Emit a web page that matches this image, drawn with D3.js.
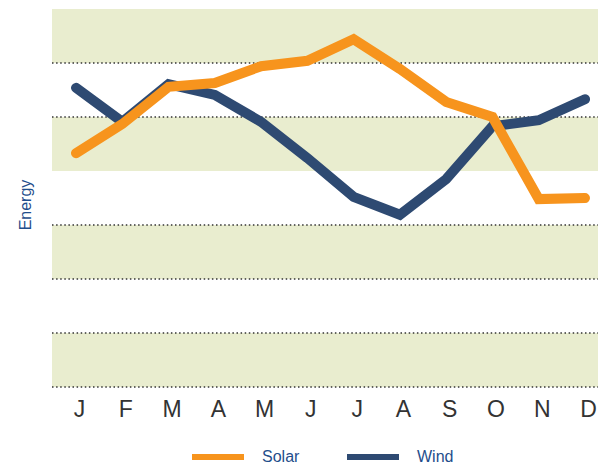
<!DOCTYPE html>
<html>
<head>
<meta charset="utf-8">
<script src="https://cdn.jsdelivr.net/npm/d3@7"></script>
<style>
  body { margin: 0; background: #fff; }
  text { font-family: "Liberation Sans", Arial, sans-serif; }
</style>
</head>
<body>
<div id="chart"></div>
<script>
// Data
var months = ["J", "F", "M", "A", "M", "J", "J", "A", "S", "O", "N", "D"];
var solar = [4.33, 4.87, 5.56, 5.63, 5.94, 6.04, 6.44, 5.89, 5.28, 5.0, 3.48, 3.5];
var wind = [5.54, 4.91, 5.61, 5.41, 4.91, 4.24, 3.52, 3.19, 3.85, 4.83, 4.94, 5.33];
var bands = [[0, 1], [2, 3], [4, 5], [6, 7]];
var gridValues = [0, 1, 2, 3, 5, 6];

var svgWidth = 606;
var svgHeight = 466;
var plot = {left: 52, right: 598, top: 9, bottom: 387};

var svg = d3.select("#chart")
  .append("svg")
    .attr("width", svgWidth)
    .attr("height", svgHeight);

// Scales
var x = d3.scalePoint()
  .domain(d3.range(months.length))
  .range([76, 585]);
var y = d3.scaleLinear()
  .domain([0, 7])
  .range([plot.bottom, plot.top]);

// Background bands
svg.append("g")
  .selectAll("rect")
  .data(bands)
  .join("rect")
    .attr("x", plot.left)
    .attr("width", plot.right - plot.left)
    .attr("y", d => y(d[1]))
    .attr("height", d => y(d[0]) - y(d[1]))
    .attr("fill", "#e9edcf");

// Dotted grid lines
svg.append("g")
  .selectAll("line")
  .data(gridValues)
  .join("line")
    .attr("x1", plot.left)
    .attr("x2", plot.right)
    .attr("y1", d => y(d))
    .attr("y2", d => y(d))
    .attr("stroke", "#333")
    .attr("stroke-width", 1.5)
    .attr("stroke-dasharray", "1.5,2.6");

// Month labels via bottom axis
var xAxis = svg.append("g")
  .attr("transform", "translate(3," + (plot.bottom + 3) + ")")
  .call(d3.axisBottom(x).tickSize(0).tickFormat(i => months[i]));
xAxis.select(".domain").remove();
xAxis.selectAll("text")
  .attr("dy", "1.05em")
  .attr("font-size", 23)
  .attr("font-family", "Liberation Sans, Arial, sans-serif")
  .attr("fill", "#333");

// Y axis title
svg.append("text")
  .attr("transform", "translate(31,205) rotate(-90)")
  .attr("text-anchor", "middle")
  .attr("font-size", 16)
  .attr("fill", "#1f4e8c")
  .text("Energy");

// Lines
var line = d3.line()
  .x((d, i) => x(i))
  .y(d => y(d));

svg.append("path")
  .attr("d", line(wind))
  .attr("fill", "none")
  .attr("stroke", "#2e4a72")
  .attr("stroke-width", 10)
  .attr("stroke-linecap", "round")
  .attr("stroke-linejoin", "miter");

svg.append("path")
  .attr("d", line(solar))
  .attr("fill", "none")
  .attr("stroke", "#f7941d")
  .attr("stroke-width", 10)
  .attr("stroke-linecap", "round")
  .attr("stroke-linejoin", "miter");

// Legend
var legend = [
  {name: "Solar", color: "#f7941d", x: 192},
  {name: "Wind", color: "#2e4a72", x: 347}
];
var lg = svg.append("g")
  .selectAll("g")
  .data(legend)
  .join("g")
    .attr("transform", d => "translate(" + d.x + ",457)");
lg.append("rect")
  .attr("x", 0)
  .attr("y", -3)
  .attr("width", 52)
  .attr("height", 6)
  .attr("fill", d => d.color);
lg.append("text")
  .attr("x", 70)
  .attr("y", 5)
  .attr("font-size", 16)
  .attr("fill", "#1f4e8c")
  .text(d => d.name);
</script>
</body>
</html>
